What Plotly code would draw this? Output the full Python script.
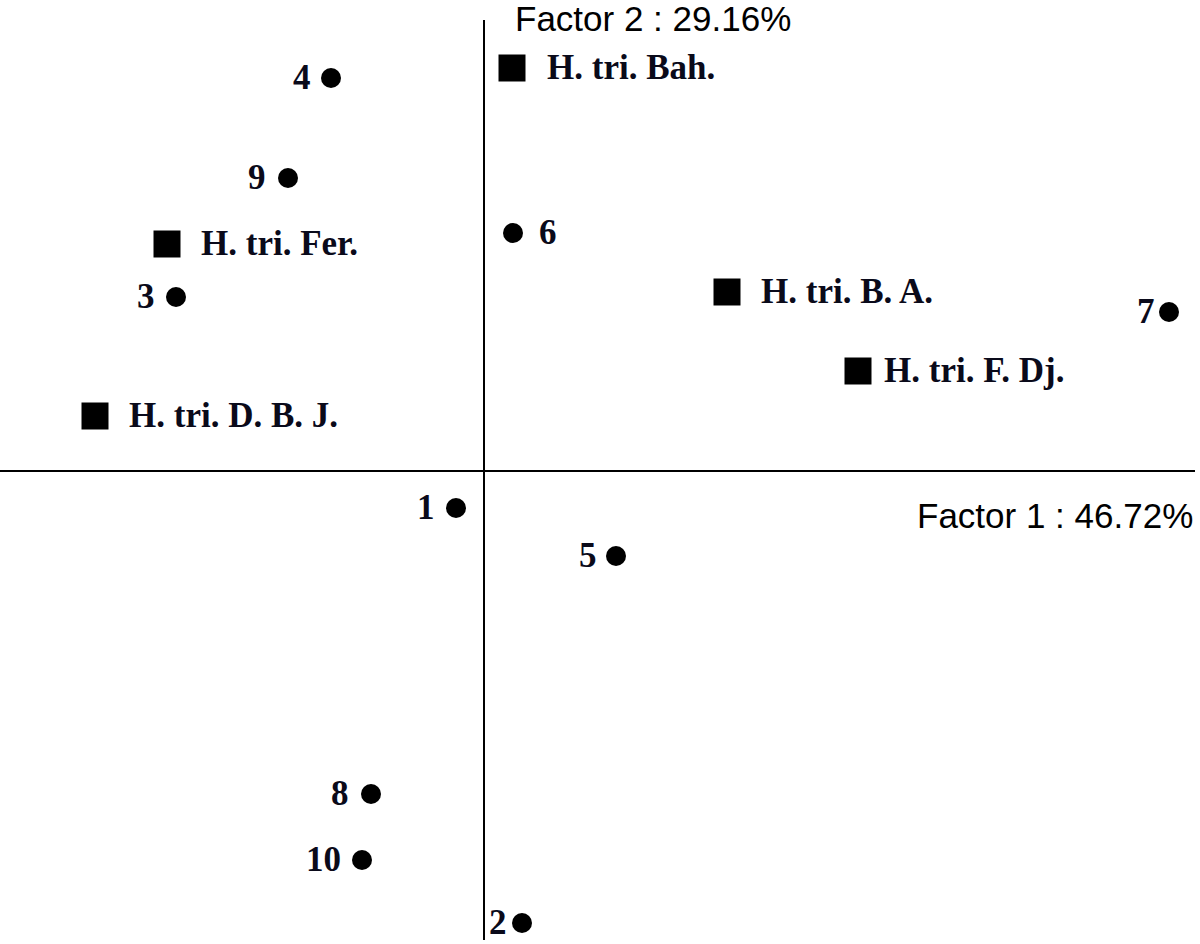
import plotly.graph_objects as go

# Factor scores (individuals)
ind_labels = ["1", "2", "3", "4", "5", "6", "7", "8", "9", "10"]
ind_f1 = [-0.28, 0.38, -3.08, -1.53, 1.32, 0.29, 6.85, -1.13, -1.96, -1.22]
ind_f2 = [-0.37, -4.52, 1.74, 3.93, -0.85, 2.38, 1.59, -3.23, 2.93, -3.89]

# Populations (supplementary)
pop_labels = ["H. tri. Bah.", "H. tri. Fer.", "H. tri. B. A.", "H. tri. F. Dj.", "H. tri. D. B. J."]
pop_f1 = [0.28, -3.17, 2.43, 3.74, -3.89]
pop_f2 = [4.03, 2.27, 1.79, 1.00, 0.55]

axis_x_label = "Factor 1 : 46.72%"
axis_y_label = "Factor 2 : 29.16%"

# label placement (style only): pixel offsets from marker centre
ind_shift = [-19, -13, -19, -18, -17, 24, -12, -20, -20, -19]
pop_shift = [33, 32, 32, 24, 32]

label_font = dict(family="Liberation Serif, Times New Roman, serif", size=35, color="#0a0a1a")
sans_font = dict(family="Liberation Sans, Arial, sans-serif", size=35, color="black")

fig = go.Figure()
fig.add_trace(go.Scatter(
    x=ind_f1, y=ind_f2, mode="markers",
    marker=dict(symbol="circle", size=20, color="black"),
    showlegend=False, cliponaxis=False, hoverinfo="skip"))
fig.add_trace(go.Scatter(
    x=pop_f1, y=pop_f2, mode="markers",
    marker=dict(symbol="square", size=27, color="black"),
    showlegend=False, cliponaxis=False, hoverinfo="skip"))

for lab, x, y, s in zip(ind_labels, ind_f1, ind_f2, ind_shift):
    fig.add_annotation(x=x, y=y, text=f"<b>{lab}</b>", showarrow=False,
                       xanchor="right" if s < 0 else "left", xshift=s, yshift=1,
                       font=label_font)
for lab, x, y, s in zip(pop_labels, pop_f1, pop_f2, pop_shift):
    fig.add_annotation(x=x, y=y, text=f"<b>{lab}</b>", showarrow=False,
                       xanchor="left", xshift=s, yshift=1, font=label_font)

# axes lines through origin
fig.add_shape(type="line", x0=-4.84, x1=7.11, y0=0, y1=0, line=dict(color="black", width=2))
fig.add_shape(type="line", x0=0, x1=0, y0=-4.69, y1=4.51, line=dict(color="black", width=2))

fig.add_annotation(x=0.29, y=4.53, text=axis_y_label, showarrow=False, xanchor="left",
                   font=sans_font)
fig.add_annotation(x=7.11, y=-0.44, text=axis_x_label, showarrow=False, xanchor="right",
                   font=sans_font)

fig.update_layout(
    width=1200, height=944, margin=dict(l=0, r=0, t=0, b=0),
    paper_bgcolor="white", plot_bgcolor="white",
    xaxis=dict(range=[-4.84, 7.16], visible=False),
    yaxis=dict(range=[-4.73, 4.71], visible=False),
)
fig.write_html("out.html", config={"displayModeBar": False},
               post_script="document.body.style.margin='0';")
